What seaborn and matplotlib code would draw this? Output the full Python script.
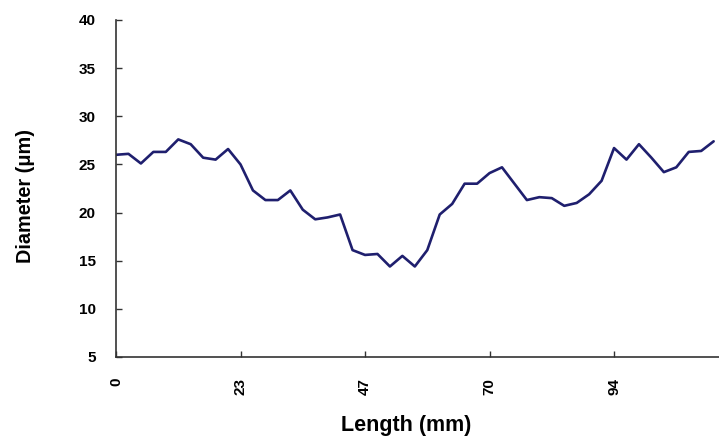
import numpy as np
import pandas as pd
import matplotlib
matplotlib.use("Agg")
import matplotlib.pyplot as plt
import seaborn as sns

# Data (49 points, 2.34 mm spacing)
step_mm = 2.34
diameter_um = [26.0, 26.1, 25.1, 26.3, 26.3, 27.6, 27.1, 25.7, 25.5, 26.6,
               25.0, 22.3, 21.3, 21.3, 22.3, 20.3, 19.3, 19.5, 19.8, 16.1,
               15.6, 15.7, 14.4, 15.5, 14.4, 16.1, 19.8, 20.9, 23.0, 23.0,
               24.1, 24.7, 23.0, 21.3, 21.6, 21.5, 20.7, 21.0, 21.9, 23.3,
               26.7, 25.5, 27.1, 25.7, 24.2, 24.7, 26.3, 26.4, 27.4]
length_mm = [round(i * step_mm, 2) for i in range(len(diameter_um))]
x_tick_values = [0, 23.4, 46.8, 70.2, 93.6]
x_tick_labels = ["0", "23", "47", "70", "94"]
y_ticks = [5, 10, 15, 20, 25, 30, 35, 40]

df = pd.DataFrame({"Length": length_mm, "Diameter": diameter_um})

sns.set_theme(style="white")
plt.rcParams['font.family'] = ['Liberation Sans', 'DejaVu Sans']

fig = plt.figure(figsize=(7.19, 4.44), dpi=100)
ax = fig.add_axes([116/719, 1 - 357/444, 1 - 116/719, (357 - 20)/444])

sns.lineplot(data=df, x="Length", y="Diameter", ax=ax, color="#1f1f6e",
             linewidth=1.9)

ax.set_xlim(0, 48.43 * step_mm)
ax.set_ylim(5, 40)
ax.set_yticks(y_ticks)
ax.set_yticklabels([str(v) for v in y_ticks], fontsize=11, fontweight="bold",
                   color="black")
ax.set_xticks(x_tick_values)
ax.set_xticklabels(x_tick_labels, fontsize=11, fontweight="bold", rotation=90,
                   color="black")

for s in ["top", "right"]:
    ax.spines[s].set_visible(False)
for s in ["left", "bottom"]:
    ax.spines[s].set_color("#333333")
    ax.spines[s].set_linewidth(1.2)

ax.tick_params(axis="y", direction="in", length=4, width=1, color="#333333",
               left=True, pad=14.5)
ax.tick_params(axis="x", direction="in", length=4, width=1, color="#333333",
               bottom=True, pad=15)

ax.set_xlabel("Length (mm)", fontsize=15.5, fontweight="bold", color="black")
ax.set_ylabel("Diameter (μm)", fontsize=14.3, fontweight="bold", color="black")
ax.xaxis.set_label_coords(0.481, -0.172)
ax.yaxis.set_label_coords(-0.135, 0.478)

fig.savefig("out.png", dpi=100)
